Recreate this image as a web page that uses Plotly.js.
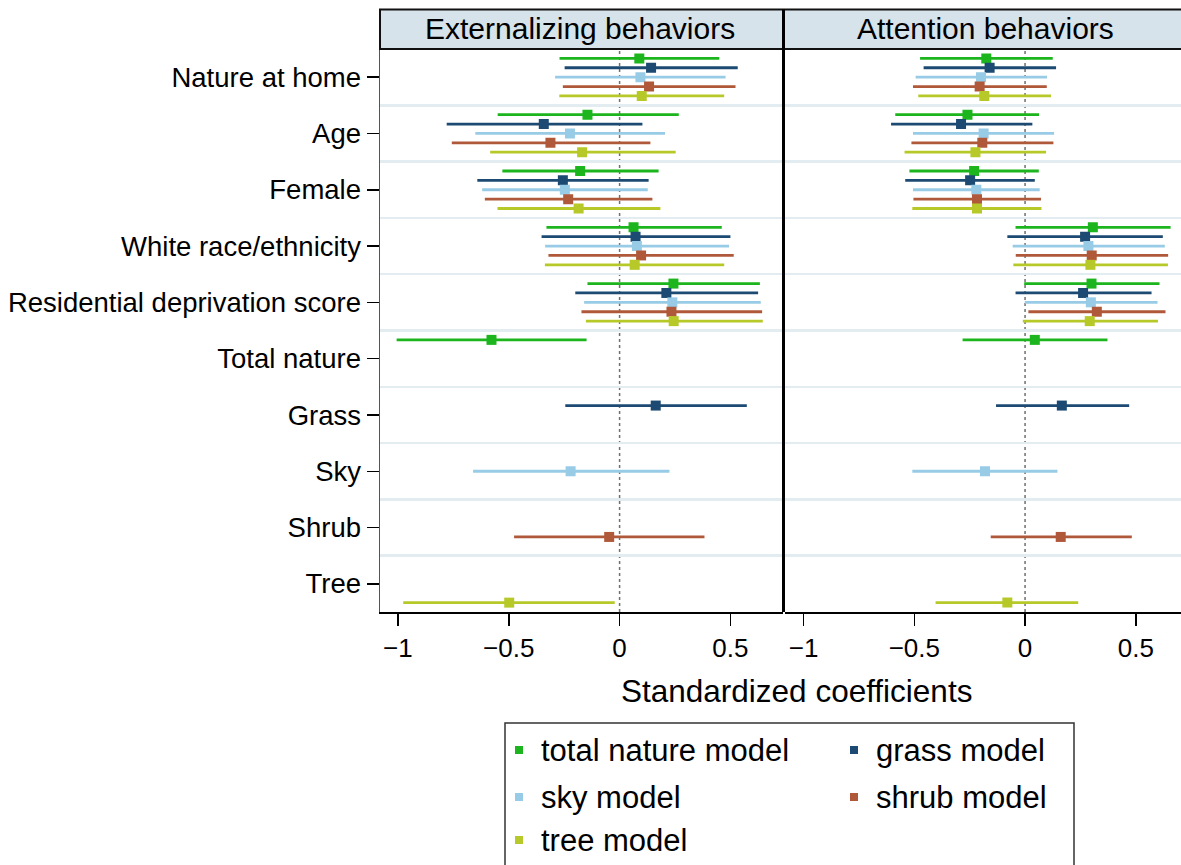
<!DOCTYPE html>
<html>
<head>
<meta charset="utf-8">
<script src="https://cdn.plot.ly/plotly-3.0.1.min.js"></script>
<style>html,body{margin:0;padding:0;background:#fff;}#chart{width:1181px;height:865px;}</style>
</head>
<body>
<div id="chart"></div>
<script>
// Row labels (top to bottom)
const categories = ["Nature at home", "Age", "Female", "White race/ethnicity",
  "Residential deprivation score", "Total nature", "Grass", "Sky", "Shrub", "Tree"];
const covariates = categories.slice(0, 5);
const models = ["total nature model", "grass model", "sky model", "shrub model", "tree model"];
const exposures = ["Total nature", "Grass", "Sky", "Shrub", "Tree"];
const panels = ["Externalizing behaviors", "Attention behaviors"];
const modelColors = ["#1db51d", "#1d4a73", "#98cbe6", "#b0583a", "#b6c928"];
const tickVals = [-1, -0.5, 0, 0.5];

// Each row: 5 covariates then the model's own exposure
// Externalizing behaviors
const extEst = [
  [0.089, -0.145, -0.178, 0.063, 0.243, -0.578],
  [0.142, -0.342, -0.256, 0.072, 0.211, 0.163],
  [0.094, -0.224, -0.247, 0.078, 0.238, -0.221],
  [0.133, -0.312, -0.232, 0.097, 0.234, -0.047],
  [0.100, -0.169, -0.185, 0.068, 0.244, -0.498]
];
const extLo = [
  [-0.271, -0.550, -0.529, -0.330, -0.145, -1.006],
  [-0.248, -0.780, -0.642, -0.352, -0.200, -0.245],
  [-0.291, -0.651, -0.620, -0.336, -0.160, -0.661],
  [-0.256, -0.757, -0.608, -0.321, -0.172, -0.476],
  [-0.272, -0.584, -0.551, -0.337, -0.152, -0.976]
];
const extHi = [
  [0.450, 0.267, 0.176, 0.461, 0.633, -0.149],
  [0.533, 0.103, 0.131, 0.500, 0.625, 0.574],
  [0.478, 0.205, 0.127, 0.494, 0.637, 0.225],
  [0.523, 0.139, 0.148, 0.515, 0.643, 0.383],
  [0.472, 0.253, 0.184, 0.472, 0.646, -0.022]
];
// Attention behaviors
const attEst = [
  [-0.175, -0.260, -0.230, 0.306, 0.300, 0.044],
  [-0.160, -0.289, -0.248, 0.271, 0.262, 0.166],
  [-0.199, -0.187, -0.220, 0.286, 0.297, -0.181],
  [-0.205, -0.193, -0.217, 0.301, 0.324, 0.161],
  [-0.184, -0.224, -0.217, 0.295, 0.292, -0.080]
];
const attLo = [
  [-0.474, -0.586, -0.522, -0.043, -0.004, -0.282],
  [-0.458, -0.605, -0.541, -0.080, -0.043, -0.131],
  [-0.494, -0.506, -0.506, -0.056, -0.001, -0.509],
  [-0.506, -0.513, -0.504, -0.042, 0.015, -0.155],
  [-0.482, -0.544, -0.509, -0.053, -0.010, -0.404]
];
const attHi = [
  [0.125, 0.063, 0.062, 0.657, 0.607, 0.372],
  [0.140, 0.033, 0.044, 0.622, 0.571, 0.470],
  [0.099, 0.131, 0.066, 0.631, 0.598, 0.146],
  [0.098, 0.128, 0.072, 0.646, 0.634, 0.482],
  [0.117, 0.095, 0.074, 0.645, 0.600, 0.240]
];

const FONT = "Liberation Sans, Arial, Helvetica, sans-serif";
const offsetStep = 1 / 6;

function makeTraces(est, lo, hi, xaxis) {
  return models.map((m, k) => {
    const rowNames = covariates.concat([exposures[k]]);
    const y = rowNames.map(n => categories.indexOf(n) + (k - 2) * offsetStep);
    return {
      type: "scatter", mode: "markers", name: m, legendgroup: m,
      showlegend: false, xaxis: xaxis, yaxis: "y",
      x: est[k], y: y,
      error_x: {
        type: "data", symmetric: false,
        array: est[k].map((v, i) => hi[k][i] - v),
        arrayminus: est[k].map((v, i) => v - lo[k][i]),
        color: modelColors[k], thickness: 2.8, width: 0
      },
      marker: { symbol: "square", size: 10, color: modelColors[k] },
      hoverinfo: "x+name"
    };
  });
}

const traces = makeTraces(extEst, extLo, extHi, "x")
  .concat(makeTraces(attEst, attLo, attHi, "x2"));

const W = 1181, H = 865;
const mL = 380, mR = 0, mT = 49, mB = 253;
const pw = W - mL - mR, ph = H - mT - mB;
const px = v => (v - mL) / pw;          // pixel x -> paper x
const py = v => (H - mB - v) / ph;      // pixel y -> paper y
const split = px(783.5);

const xCommon = {
  tickmode: "array", tickvals: tickVals, ticks: "outside", ticklen: 12, tickwidth: 1.5,
  tickcolor: "#000", showline: true, linecolor: "#000", linewidth: 1.5,
  showgrid: false, zeroline: false, anchor: "y",
  tickfont: { family: FONT, size: 26, color: "#000" }
};

// Legend (2 columns, drawn as a boxed key below the plot)
const legendCols = [519, 854];
const legendRows = [750, 797, 840];
const legendShapes = [
  { type: "rect", xref: "paper", yref: "paper", x0: px(505), x1: px(1074), y0: py(723), y1: py(900),
    fillcolor: "#fff", line: { color: "#333", width: 1.5 } }
];
const legendTexts = [];
models.forEach((m, k) => {
  const cx = legendCols[k % 2], cy = legendRows[Math.floor(k / 2)];
  legendShapes.push({ type: "rect", xref: "paper", yref: "paper",
    x0: px(cx - 4), x1: px(cx + 4), y0: py(cy - 4), y1: py(cy + 4),
    fillcolor: modelColors[k], line: { width: 0 } });
  legendTexts.push({ text: m, xref: "paper", yref: "paper", x: px(cx + 20), y: py(cy),
    xanchor: "left", yanchor: "middle", showarrow: false,
    font: { family: FONT, size: 31, color: "#000" } });
});

const layout = {
  width: W, height: H,
  margin: { l: mL, r: mR, t: mT, b: mB, pad: 0, autoexpand: false },
  paper_bgcolor: "#fff", plot_bgcolor: "#fff",
  font: { family: FONT, color: "#000" },
  showlegend: false,
  xaxis: Object.assign({}, xCommon, { domain: [0, px(782.5)], range: [-1.081, 0.735] }),
  xaxis2: Object.assign({}, xCommon, { domain: [px(784.5), 1], range: [-1.086, 0.704] }),
  yaxis: {
    range: [9.5, -0.5], tickmode: "array",
    tickvals: categories.map((c, i) => i), ticktext: categories,
    ticks: "outside", ticklen: 12, tickwidth: 1.5, tickcolor: "#000",
    showline: true, linecolor: "#555", linewidth: 1.5,
    showgrid: false, zeroline: false,
    tickfont: { family: FONT, size: 27.5, color: "#000" },
    minor: { tickmode: "linear", tick0: 0.5, dtick: 1, showgrid: true,
             gridcolor: "#e3ecf1", gridwidth: 2.5, ticks: "" }
  },
  shapes: [
    { type: "line", xref: "x", yref: "paper", x0: 0, x1: 0, y0: 0, y1: 1,
      line: { color: "#6f6f6f", width: 1.5, dash: "dot" }, layer: "below" },
    { type: "line", xref: "x2", yref: "paper", x0: 0, x1: 0, y0: 0, y1: 1,
      line: { color: "#6f6f6f", width: 1.5, dash: "dot" }, layer: "below" },
    { type: "rect", xref: "paper", yref: "paper", x0: 0, x1: 1.01, y0: 1, y1: py(9.5),
      fillcolor: "#d6e3eb", line: { color: "#111", width: 2 } },
    { type: "line", xref: "paper", yref: "paper", x0: split, x1: split, y0: 0, y1: py(9.5),
      line: { color: "#000", width: 3 } }
  ].concat(legendShapes),
  annotations: [
    { text: panels[0], xref: "paper", yref: "paper", x: px(580), y: py(28.5),
      xanchor: "center", yanchor: "middle", showarrow: false,
      font: { family: FONT, size: 30, color: "#000" } },
    { text: panels[1], xref: "paper", yref: "paper", x: px(985), y: py(28.5),
      xanchor: "center", yanchor: "middle", showarrow: false,
      font: { family: FONT, size: 30, color: "#000" } },
    { text: "Standardized coefficients", xref: "paper", yref: "paper", x: px(796), y: py(691),
      xanchor: "center", yanchor: "middle", showarrow: false,
      font: { family: FONT, size: 31.5, color: "#000" } }
  ].concat(legendTexts)
};

Plotly.newPlot("chart", traces, layout, { displayModeBar: false, staticPlot: true });
</script>
</body>
</html>
